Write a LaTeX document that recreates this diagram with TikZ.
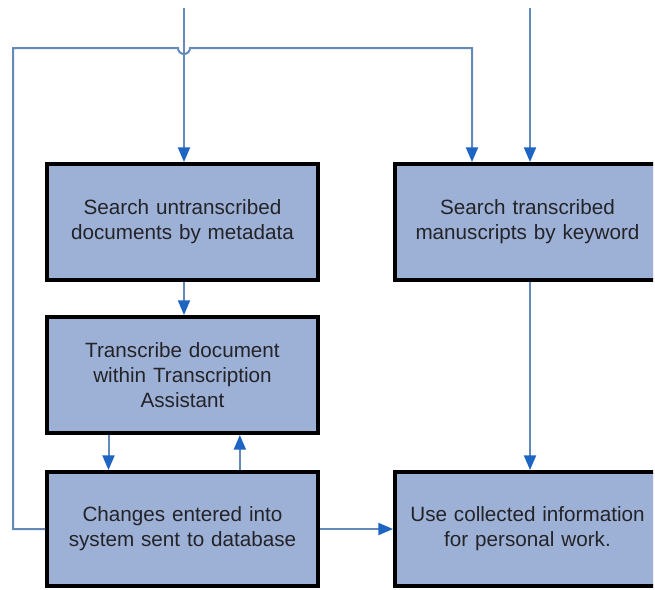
\documentclass[tikz,border=0pt]{standalone}
\usepackage{fontspec}
\setmainfont{Liberation Sans}
\usetikzlibrary{arrows.meta}
\definecolor{boxfill}{RGB}{157,177,215}
\definecolor{lineblue}{RGB}{100,138,185}
\definecolor{headblue}{RGB}{30,100,195}
\definecolor{textgray}{RGB}{35,35,40}
\tikzset{
  procbox/.style={draw=black, line width=3pt, fill=boxfill, inner sep=0pt,
    text width=190pt, align=center, text=textgray,
    font=\fontsize{15.5pt}{18.75pt}\selectfont},
  flow/.style={draw=lineblue, line width=1.5pt,
    -{Triangle[length=11pt, width=9pt, color=headblue, fill=headblue]}},
}
\begin{document}
\begin{tikzpicture}[x=0.75pt,y=-0.75pt]
\useasboundingbox (0,0) rectangle (655,589);
\begin{scope}
\clip (0,0) rectangle (653,589);
\node[procbox, minimum width=203.25pt, minimum height=87pt] (A) at (182.5,222) {Search untranscribed\\documents by metadata};
\node[procbox, minimum width=203.25pt, minimum height=87pt] (B) at (182.5,375) {Transcribe document\\within Transcription\\Assistant};
\node[procbox, minimum width=203.25pt, minimum height=85.5pt] (C) at (182.5,529) {Changes entered into\\system sent to database};
\node[procbox, minimum width=198.75pt, minimum height=87pt] (D) at (527.5,222) {Search transcribed\\manuscripts by keyword};
\node[procbox, minimum width=198.75pt, minimum height=85.5pt] (E) at (527.5,529) {Use collected information\\for personal work.};
\end{scope}
\coordinate (topA) at (184,8);
\coordinate (topD) at (530,8);
\coordinate (fbTL) at (13,48);
\coordinate (fbJ) at (178,48);
\coordinate (fbR) at (472,48);
% inputs from top
\draw[flow] (topA) -- (topA |- A.north);
\draw[flow] (topD) -- (topD |- D.north);
% A -> B
\draw[flow] (A.south -| topA) -- (B.north -| topA);
% B <-> C
\draw[flow] ([xshift=-55.5pt]B.south) -- ([xshift=-55.5pt]C.north);
\draw[flow] ([xshift=43pt]C.north) -- ([xshift=43pt]B.south);
% C -> E
\draw[flow] (C.east) -- (E.west);
% D -> E
\draw[flow] (D.south -| topD) -- (E.north -| topD);
% feedback loop with line jump
\draw[flow] (C.west) -- (fbTL |- C.west) -- (fbTL) -- (fbJ)
  arc[start angle=180, end angle=0, radius=6] -- (fbR) -- (fbR |- D.north);
\end{tikzpicture}
\end{document}
